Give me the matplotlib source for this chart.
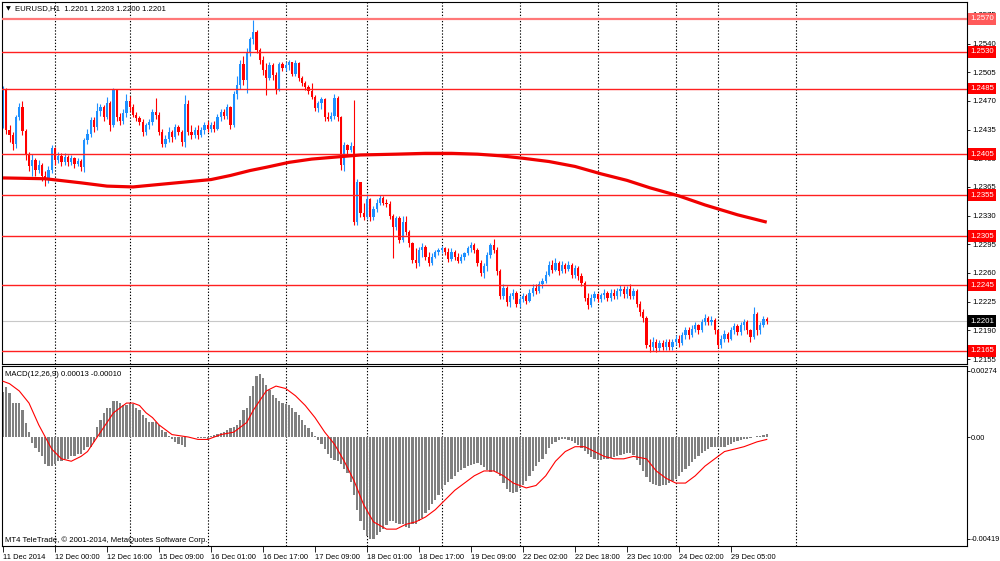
import matplotlib
matplotlib.use("Agg")
import matplotlib.pyplot as plt
import matplotlib.transforms as mtrans
import numpy as np

plt.rcParams['font.family'] = ['Liberation Sans', 'DejaVu Sans']

# ---------------- data ----------------
first_open = 1.2441
closes = [1.2484, 1.2435, 1.2428, 1.2418, 1.2450, 1.2463, 1.2433, 1.2404, 1.2390, 1.2398,
          1.2386, 1.2392, 1.2378, 1.2374, 1.2386, 1.2412, 1.2398, 1.2403, 1.2396, 1.2402,
          1.2395, 1.2400, 1.2393, 1.2397, 1.2389, 1.2422, 1.2430, 1.2447, 1.2438, 1.2458,
          1.2462, 1.2450, 1.2468, 1.2440, 1.2483, 1.2450, 1.2446, 1.2455, 1.2470, 1.2462,
          1.2453, 1.2449, 1.2444, 1.2432, 1.2440, 1.2444, 1.2457, 1.2453, 1.2432, 1.2418,
          1.2424, 1.2432, 1.2426, 1.2438, 1.2432, 1.2420, 1.2466, 1.2432, 1.2428, 1.2434,
          1.2428, 1.2434, 1.2440, 1.2436, 1.2440, 1.2436, 1.2450, 1.2456, 1.2452, 1.2462,
          1.2441, 1.2478, 1.2490, 1.2515, 1.2496, 1.2530, 1.2545, 1.2554, 1.2532, 1.2520,
          1.2508, 1.2498, 1.2514, 1.2502, 1.2484, 1.2515, 1.2510, 1.2514, 1.2517, 1.2503,
          1.2516, 1.2498, 1.2492, 1.2487, 1.2482, 1.2475, 1.2461, 1.2468, 1.2472, 1.2450,
          1.2448, 1.2452, 1.2474, 1.2450, 1.2392, 1.2416, 1.2410, 1.2415, 1.2322, 1.2371,
          1.2333, 1.2328, 1.2350, 1.2328, 1.2338, 1.2346, 1.2352, 1.2346, 1.2344, 1.2330,
          1.2316, 1.2327, 1.2300, 1.2322, 1.2310, 1.2296, 1.2276, 1.2272, 1.2288, 1.2292,
          1.2280, 1.2272, 1.2280, 1.2285, 1.2288, 1.2290, 1.2285, 1.2277, 1.2285, 1.2280,
          1.2275, 1.2279, 1.2284, 1.2290, 1.2294, 1.2288, 1.2272, 1.2260, 1.2268, 1.2282,
          1.2294, 1.2288, 1.2262, 1.2232, 1.2242, 1.2224, 1.2232, 1.2236, 1.2222, 1.2228,
          1.2232, 1.2226, 1.2236, 1.2242, 1.2238, 1.2246, 1.2250, 1.2258, 1.2270, 1.2264,
          1.2272, 1.2262, 1.2270, 1.2265, 1.2270, 1.2258, 1.2266, 1.2256, 1.2248, 1.2230,
          1.2221, 1.2230, 1.2234, 1.2228, 1.2233, 1.2236, 1.2230, 1.2235, 1.2232, 1.2238,
          1.2241, 1.2234, 1.2240, 1.2232, 1.2238, 1.2222, 1.2212, 1.2205, 1.2172, 1.2170,
          1.2176, 1.2168, 1.2174, 1.2170, 1.2176, 1.2170, 1.2176, 1.2180, 1.2174, 1.2184,
          1.2190, 1.2184, 1.2192, 1.2196, 1.2190, 1.2200, 1.2205, 1.2200, 1.2203, 1.2190,
          1.2172, 1.2180, 1.2186, 1.2180, 1.2190, 1.2195, 1.2188, 1.2196, 1.2200, 1.2190,
          1.2182, 1.2210, 1.2190, 1.2196, 1.2204, 1.2201]
highs = [1.2488, 1.2486, 1.2440, 1.2432, 1.2453, 1.2467, 1.2470, 1.2436, 1.2408, 1.2405,
         1.2400, 1.2398, 1.2394, 1.2385, 1.2390, 1.2416, 1.2414, 1.2408, 1.2406, 1.2406,
         1.2404, 1.2404, 1.2402, 1.2400, 1.2399, 1.2425, 1.2436, 1.2450, 1.2450, 1.2468,
         1.2466, 1.2465, 1.2475, 1.2470, 1.2486, 1.2485, 1.2455, 1.2460, 1.2478, 1.2476,
         1.2466, 1.2457, 1.2452, 1.2448, 1.2443, 1.2448, 1.2460, 1.2474, 1.2456, 1.2436,
         1.2428, 1.2438, 1.2435, 1.2442, 1.2440, 1.2434, 1.2477, 1.2471, 1.2440, 1.2438,
         1.2440, 1.2438, 1.2444, 1.2446, 1.2444, 1.2446, 1.2454, 1.2460, 1.2460, 1.2466,
         1.2464, 1.2482, 1.2500, 1.2520, 1.2525, 1.2535, 1.2548, 1.2569, 1.2556, 1.2535,
         1.2525, 1.2516, 1.2518, 1.2516, 1.2505, 1.2518, 1.2518, 1.2518, 1.2520, 1.2518,
         1.2520, 1.2518, 1.2500, 1.2494, 1.2490, 1.2492, 1.2477, 1.2470, 1.2475, 1.2474,
         1.2456, 1.2456, 1.2478, 1.2476, 1.2452, 1.2420, 1.2418, 1.2420, 1.2471, 1.2375,
         1.2360, 1.2346, 1.2356, 1.2352, 1.2342, 1.2350, 1.2355, 1.2354, 1.2350, 1.2348,
         1.2332, 1.2330, 1.2330, 1.2330, 1.2330, 1.2312, 1.2298, 1.2290, 1.2292, 1.2296,
         1.2294, 1.2285, 1.2284, 1.2288, 1.2290, 1.2293, 1.2292, 1.2290, 1.2290, 1.2288,
         1.2284, 1.2283, 1.2286, 1.2293, 1.2298, 1.2296, 1.2290, 1.2276, 1.2272, 1.2286,
         1.2297, 1.2301, 1.2292, 1.2265, 1.2246, 1.2244, 1.2236, 1.2240, 1.2238, 1.2232,
         1.2236, 1.2234, 1.2240, 1.2246, 1.2246, 1.2250, 1.2254, 1.2262, 1.2274, 1.2276,
         1.2278, 1.2275, 1.2274, 1.2272, 1.2274, 1.2272, 1.2270, 1.2268, 1.2260, 1.2250,
         1.2236, 1.2234, 1.2238, 1.2236, 1.2236, 1.2240, 1.2238, 1.2240, 1.2240, 1.2242,
         1.2245, 1.2244, 1.2244, 1.2246, 1.2242, 1.2240, 1.2226, 1.2216, 1.2208, 1.2180,
         1.2182, 1.2180, 1.2178, 1.2178, 1.2180, 1.2180, 1.2180, 1.2184, 1.2184, 1.2188,
         1.2194, 1.2194, 1.2196, 1.2200, 1.2198, 1.2204, 1.2210, 1.2208, 1.2207, 1.2205,
         1.2192, 1.2184, 1.2190, 1.2188, 1.2194, 1.2199, 1.2198, 1.2200, 1.2204, 1.2202,
         1.2192, 1.2218, 1.2212, 1.2200, 1.2208, 1.2206]
lows = [1.2437, 1.2430, 1.2420, 1.2410, 1.2412, 1.2447, 1.2428, 1.2398, 1.2384, 1.2378,
        1.2378, 1.2382, 1.2372, 1.2366, 1.2370, 1.2382, 1.2392, 1.2394, 1.2390, 1.2392,
        1.2390, 1.2392, 1.2388, 1.2390, 1.2385, 1.2383, 1.2418, 1.2426, 1.2432, 1.2435,
        1.2452, 1.2445, 1.2448, 1.2433, 1.2438, 1.2445, 1.2440, 1.2442, 1.2450, 1.2458,
        1.2450, 1.2445, 1.2440, 1.2427, 1.2428, 1.2436, 1.2440, 1.2448, 1.2428, 1.2414,
        1.2414, 1.2420, 1.2420, 1.2424, 1.2428, 1.2415, 1.2414, 1.2428, 1.2424, 1.2425,
        1.2424, 1.2426, 1.2430, 1.2432, 1.2432, 1.2432, 1.2434, 1.2446, 1.2448, 1.2448,
        1.2436, 1.2438, 1.2472, 1.2485, 1.2490, 1.2480, 1.2525, 1.2540, 1.2528, 1.2515,
        1.2502, 1.2477, 1.2496, 1.2496, 1.2478, 1.2482, 1.2506, 1.2506, 1.2508, 1.2500,
        1.2500, 1.2494, 1.2488, 1.2483, 1.2478, 1.2472, 1.2458, 1.2456, 1.2460, 1.2446,
        1.2445, 1.2446, 1.2448, 1.2446, 1.2386, 1.2384, 1.2405, 1.2408, 1.2318, 1.2318,
        1.2328, 1.2325, 1.2326, 1.2324, 1.2325, 1.2335, 1.2343, 1.2343, 1.2340, 1.2326,
        1.2278, 1.2312, 1.2296, 1.2298, 1.2306, 1.2292, 1.2272, 1.2266, 1.2268, 1.2280,
        1.2276, 1.2268, 1.2270, 1.2278, 1.2282, 1.2284, 1.2282, 1.2273, 1.2275, 1.2276,
        1.2272, 1.2272, 1.2276, 1.2282, 1.2286, 1.2284, 1.2268, 1.2256, 1.2254, 1.2262,
        1.2278, 1.2284, 1.2258, 1.2228, 1.2228, 1.2220, 1.2218, 1.2228, 1.2218, 1.2218,
        1.2224, 1.2222, 1.2224, 1.2232, 1.2234, 1.2236, 1.2242, 1.2248, 1.2256, 1.2260,
        1.2262, 1.2258, 1.2260, 1.2260, 1.2262, 1.2254, 1.2254, 1.2252, 1.2244, 1.2226,
        1.2216, 1.2218, 1.2226, 1.2224, 1.2224, 1.2228, 1.2226, 1.2226, 1.2228, 1.2228,
        1.2232, 1.2230, 1.2230, 1.2228, 1.2228, 1.2218, 1.2208, 1.2200, 1.2168, 1.2163,
        1.2165, 1.2164, 1.2165, 1.2166, 1.2166, 1.2166, 1.2166, 1.2172, 1.2170, 1.2172,
        1.2180, 1.2180, 1.2182, 1.2188, 1.2186, 1.2188, 1.2196, 1.2196, 1.2196, 1.2186,
        1.2168, 1.2168, 1.2176, 1.2176, 1.2178, 1.2186, 1.2184, 1.2184, 1.2190, 1.2186,
        1.2176, 1.2180, 1.2184, 1.2186, 1.2194, 1.2198]

ma_bars = [0, 13, 24, 32, 40, 48, 56, 64, 70, 76, 81, 88, 95, 101, 110, 121, 130, 138,
           146, 153, 160, 168, 176, 184, 192, 199, 208, 216, 226, 235]
ma_vals = [1.2376, 1.2375, 1.2370, 1.2366, 1.2365, 1.2368, 1.2371, 1.2374, 1.2379, 1.2385,
           1.2389, 1.2395, 1.2399, 1.2401, 1.2404, 1.2405, 1.2406, 1.2406, 1.2405, 1.2403,
           1.2400, 1.2396, 1.2390, 1.2381, 1.2373, 1.2364, 1.2354, 1.2343, 1.2331, 1.2322]

macd_hist = [0.00186, 0.00206, 0.00181, 0.00140, 0.00140, 0.00140, 0.00111, 0.00058, 0.00021, -0.00025,
             -0.00045, -0.00060, -0.00080, -0.00110, -0.00120, -0.00120, -0.00110, -0.00100, -0.00100, -0.00090,
             -0.00090, -0.00080, -0.00080, -0.00070, -0.00070, -0.00055, -0.00040, -0.00040, -0.00020, 0.00040,
             0.00070, 0.00100, 0.00120, 0.00120, 0.00150, 0.00150, 0.00140, 0.00130, 0.00130, 0.00140,
             0.00135, 0.00120, 0.00110, 0.00090, 0.00080, 0.00060, 0.00060, 0.00060, 0.00050, 0.00030,
             0.00020, 0.00005, -0.00010, -0.00020, -0.00030, -0.00035, -0.00040, -0.00002, 0.00002, 0.00001,
             -0.00003, -0.00003, -0.00005, -0.00008, 0.00005, 0.00010, 0.00012, 0.00018, 0.00022, 0.00030,
             0.00038, 0.00040, 0.00050, 0.00070, 0.00110, 0.00120, 0.00170, 0.00210, 0.00250, 0.00260,
             0.00245, 0.00215, 0.00195, 0.00175, 0.00160, 0.00150, 0.00142, 0.00138, 0.00130, 0.00120,
             0.00105, 0.00090, 0.00072, 0.00050, 0.00038, 0.00020, 0.00005, -0.00012, -0.00030, -0.00050,
             -0.00070, -0.00085, -0.00095, -0.00100, -0.00110, -0.00130, -0.00150, -0.00185, -0.00240, -0.00300,
             -0.00345, -0.00385, -0.00410, -0.00420, -0.00420, -0.00405, -0.00390, -0.00380, -0.00365, -0.00345,
             -0.00345, -0.00355, -0.00360, -0.00360, -0.00370, -0.00375, -0.00360, -0.00360, -0.00345, -0.00335,
             -0.00315, -0.00300, -0.00275, -0.00260, -0.00240, -0.00215, -0.00200, -0.00185, -0.00175, -0.00160,
             -0.00145, -0.00135, -0.00128, -0.00120, -0.00115, -0.00110, -0.00108, -0.00115, -0.00125, -0.00135,
             -0.00145, -0.00140, -0.00145, -0.00160, -0.00190, -0.00215, -0.00228, -0.00232, -0.00225, -0.00210,
             -0.00200, -0.00180, -0.00160, -0.00140, -0.00120, -0.00105, -0.00090, -0.00070, -0.00045, -0.00030,
             -0.00020, -0.00012, -0.00010, -0.00010, -0.00012, -0.00015, -0.00025, -0.00035, -0.00045, -0.00058,
             -0.00072, -0.00082, -0.00090, -0.00095, -0.00095, -0.00092, -0.00090, -0.00085, -0.00082, -0.00078,
             -0.00075, -0.00070, -0.00068, -0.00065, -0.00075, -0.00095, -0.00115, -0.00140, -0.00165, -0.00185,
             -0.00195, -0.00200, -0.00202, -0.00200, -0.00198, -0.00190, -0.00182, -0.00172, -0.00160, -0.00145,
             -0.00130, -0.00118, -0.00105, -0.00092, -0.00080, -0.00068, -0.00058, -0.00048, -0.00042, -0.00040,
             -0.00042, -0.00040, -0.00040, -0.00035, -0.00028, -0.00022, -0.00018, -0.00012, -0.00008, -0.00008,
             -0.00005, -0.00002, 0.00004, 0.00006, 0.00010, 0.00013]

signal_bars = [0, 2, 5, 8, 11, 15, 18, 21, 24, 26, 28, 30, 32, 34, 36, 38, 40, 42, 44, 46,
               48, 50, 52, 57, 60, 63, 67, 71, 73, 75, 77, 81, 84, 87, 90, 93, 96, 99, 102, 105,
               108, 111, 114, 118, 121, 124, 127, 130, 133, 136, 139, 142, 145, 148, 151, 154, 157, 161, 164, 167,
               170, 173, 176, 179, 182, 185, 188, 191, 194, 198, 201, 204, 207, 210, 213, 216, 219, 222, 225, 228,
               232, 235]
signal_vals = [0.0023, 0.0022, 0.0019, 0.0014, 0.0005, -0.0005, -0.0009, -0.0010, -0.0008, -0.0006,
               -0.0002, 0.0002, 0.0006, 0.0010, 0.0012, 0.0014, 0.0014, 0.0013, 0.0010, 0.0008,
               0.0005, 0.0003, 0.0001, 0.0000, -0.0001, -0.0001, 0.0001, 0.0002, 0.0004, 0.0006,
               0.0011, 0.0019, 0.0021, 0.0020, 0.0017, 0.0013, 0.0008, 0.0002, -0.0003, -0.0010,
               -0.0018, -0.0028, -0.0035, -0.0038, -0.0038, -0.0036, -0.0035, -0.0033, -0.0030, -0.0026,
               -0.0022, -0.0019, -0.0016, -0.0014, -0.0014, -0.0016, -0.0019, -0.0021, -0.0020, -0.0016,
               -0.0010, -0.0006, -0.0004, -0.0004, -0.0006, -0.0008, -0.0009, -0.0009, -0.0008, -0.0009,
               -0.0014, -0.0017, -0.0019, -0.0019, -0.0016, -0.0012, -0.0009, -0.0006, -0.0005, -0.0004,
               -0.0002, -0.0001]

levels = [1.2570, 1.2530, 1.2485, 1.2405, 1.2355, 1.2305, 1.2245, 1.2165]
level_labels = ['1.2570', '1.2530', '1.2485', '1.2405', '1.2355', '1.2305', '1.2245', '1.2165']
current_price = 1.2201
price_ticks = [1.2575, 1.2540, 1.2505, 1.2470, 1.2435, 1.2400, 1.2365, 1.2330,
               1.2295, 1.2260, 1.2225, 1.2190, 1.2155]
macd_ticks = [0.00274, 0.0, -0.00419]
macd_tick_labels = ['0.00274', '0.00', '-0.00419']
day_breaks = [16, 39, 63, 87, 112, 135, 159, 183, 207, 220, 244]
time_label_bars = [0, 16, 32, 48, 64, 80, 96, 112, 128, 144, 160, 176, 192, 208, 224]
time_labels = ['11 Dec 2014', '12 Dec 00:00', '12 Dec 16:00', '15 Dec 09:00', '16 Dec 01:00',
               '16 Dec 17:00', '17 Dec 09:00', '18 Dec 01:00', '18 Dec 17:00', '19 Dec 09:00',
               '22 Dec 02:00', '22 Dec 18:00', '23 Dec 10:00', '24 Dec 02:00', '29 Dec 05:00']

# ---------------- figure ----------------
W, H = 1000, 561
fig = plt.figure(figsize=(W / 100, H / 100), dpi=100, facecolor='white')

def fr(x0, y0, x1, y1):
    return [x0 / W, 1 - y1 / H, (x1 - x0) / W, (y1 - y0) / H]

ax = fig.add_axes(fr(2, 2, 967, 364))
axm = fig.add_axes(fr(2, 366, 967, 546))

px_per_bar = 3.25
xlim = (-1 / px_per_bar, 964 / px_per_bar)
for a in (ax, axm):
    a.set_xlim(*xlim)
    a.set_facecolor('white')
    for s in a.spines.values():
        s.set_color('black')
        s.set_linewidth(0.8)
    for d in day_breaks:
        a.axvline(d, color='black', lw=0.8, ls=(0, (1.2, 1.6)), zorder=1)

ax.set_ylim(1.21489, 1.25907)
axm.set_ylim(-0.004496, 0.002929)

# candles
n = len(closes)
idx = np.arange(n)
c = np.array(closes)
o = np.concatenate([[first_open], c[:-1]])
h = np.maximum(np.array(highs), np.maximum(o, c))
l = np.minimum(np.array(lows), np.minimum(o, c))
up = c >= o
cols = np.where(up, '#1E90FF', '#FF0000')
ax.vlines(idx, l, h, colors=cols, lw=0.8, zorder=2)
body = np.maximum(np.abs(c - o), 0.00004)
ax.bar(idx, body, bottom=np.minimum(o, c), width=0.62, color=cols, lw=0, zorder=2)

# level lines
for lv in levels:
    if lv == 1.2570:
        ax.axhline(lv, color='#FF7878', lw=1.6, zorder=3)
    else:
        ax.axhline(lv, color='#FF2020', lw=1.0, zorder=3)
ax.axhline(current_price, color='#C8C8C8', lw=0.8, zorder=1.5)

# moving average
ax.plot(ma_bars, ma_vals, color='#F00000', lw=2.3, zorder=4, solid_capstyle='butt')

# price axis
ax.yaxis.tick_right()
ax.set_yticks(price_ticks)
ax.set_yticklabels([f'{v:.4f}' for v in price_ticks])
ax.tick_params(axis='y', direction='out', length=2.5, width=0.6, pad=1.2, labelsize=5.6,
               colors='black')
ax.set_xticks([])

btr = mtrans.blended_transform_factory(ax.transAxes, ax.transData)
for lv, lab in zip(levels, level_labels):
    fc = '#FF5A5A' if lv == 1.2570 else '#FF0000'
    ax.text(1.003, lv, lab, transform=btr, ha='left', va='center', fontsize=5.6,
            color='white', zorder=10, clip_on=False,
            bbox=dict(boxstyle='square,pad=0.3', fc=fc, ec='none'))
ax.text(1.003, current_price, f'{current_price:.4f}', transform=btr, ha='left', va='center',
        fontsize=5.6, color='white', zorder=10, clip_on=False,
        bbox=dict(boxstyle='square,pad=0.3', fc='black', ec='none'))

# MACD
axm.bar(idx, macd_hist, width=0.62, color='#808080', lw=0, zorder=2)
axm.plot(signal_bars, signal_vals, color='#FF0000', lw=0.8, zorder=3)
axm.yaxis.tick_right()
axm.set_yticks(macd_ticks)
axm.set_yticklabels(macd_tick_labels)
axm.tick_params(axis='y', direction='out', length=2, width=0.6, pad=0.8, labelsize=5.3,
                colors='black')
axm.set_xticks(time_label_bars)
axm.set_xticklabels(time_labels, ha='left')
axm.tick_params(axis='x', direction='out', length=4, width=0.6, pad=1.5, labelsize=5.4,
                colors='black')

# texts
fig.text(6 / W, 1 - 9 / H, '▼', fontsize=4.5, va='center', ha='left',
         family=['DejaVu Sans'], color='black')
fig.text(15 / W, 1 - 9 / H, 'EURUSD,H1  1.2201 1.2203 1.2200 1.2201', fontsize=5.6,
         va='center', ha='left', color='black')
fig.text(5 / W, 1 - 374 / H, 'MACD(12,26,9) 0.00013 -0.00010', fontsize=5.6,
         va='center', ha='left', color='black')
fig.text(5 / W, 1 - 540 / H, 'MT4 TeleTrade, © 2001-2014, MetaQuotes Software Corp.',
         fontsize=5.6, va='center', ha='left', color='black')

fig.savefig('out.png', dpi=100, facecolor='white')
